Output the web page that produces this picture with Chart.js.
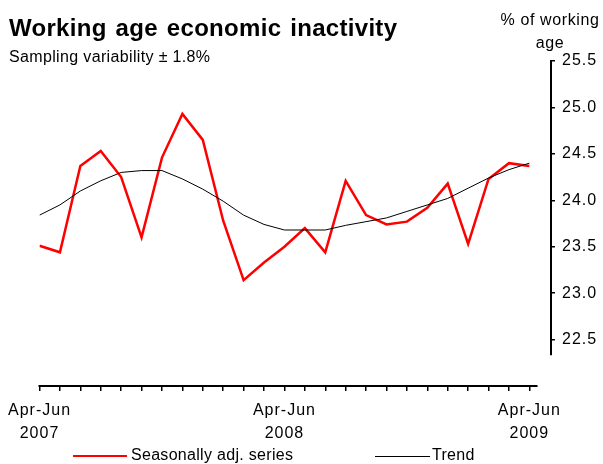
<!DOCTYPE html>
<html>
<head>
<meta charset="utf-8">
<script src="https://cdn.jsdelivr.net/npm/chart.js@4.4.1/dist/chart.umd.min.js"></script>
<style>
  html, body { margin: 0; padding: 0; background: #fff; overflow: hidden; }
  body { width: 603px; height: 464px; position: relative; font-family: "Liberation Sans", Arial, sans-serif; color: #000; }
  canvas { position: absolute; left: 0; top: 0; }
  .txt { position: absolute; white-space: nowrap; }
  #title { left: 9px; top: 16px; font-size: 24px; line-height: 24px; font-weight: bold; letter-spacing: 0.3px; word-spacing: 2px; }
  #subtitle { left: 9px; top: 49px; font-size: 16px; line-height: 16px; letter-spacing: 0.35px; }
  #ytitle { left: 490px; width: 120px; top: 8px; font-size: 16px; line-height: 23px; text-align: center; letter-spacing: 0.6px; }
  .leg { top: 447px; font-size: 16px; line-height: 16px; letter-spacing: 0.3px; }
  .swatch { position: absolute; height: 0; }
</style>
</head>
<body>
<canvas id="chart" width="603" height="464"></canvas>
<div class="txt" id="title">Working age economic inactivity</div>
<div class="txt" id="subtitle">Sampling variability ± 1.8%</div>
<div class="txt" id="ytitle">% of working<br>age</div>
<div class="swatch" style="left:73px; width:54px; top:455px; border-top:2px solid #ff0000;"></div>
<div class="txt leg" style="left:131px;">Seasonally adj. series</div>
<div class="swatch" style="left:375px; width:55px; top:456px; border-top:1px solid #000;"></div>
<div class="txt leg" style="left:432px;">Trend</div>
<script>
// rolling three-month periods
const periods = [
  'Apr-Jun 2007', 'May-Jul 2007', 'Jun-Aug 2007', 'Jul-Sep 2007', 'Aug-Oct 2007',
  'Sep-Nov 2007', 'Oct-Dec 2007', 'Nov-Jan 2008', 'Dec-Feb 2008', 'Jan-Mar 2008',
  'Feb-Apr 2008', 'Mar-May 2008', 'Apr-Jun 2008', 'May-Jul 2008', 'Jun-Aug 2008',
  'Jul-Sep 2008', 'Aug-Oct 2008', 'Sep-Nov 2008', 'Oct-Dec 2008', 'Nov-Jan 2009',
  'Dec-Feb 2009', 'Jan-Mar 2009', 'Feb-Apr 2009', 'Mar-May 2009', 'Apr-Jun 2009'
];
const labelledPeriods = [0, 12, 24];

const seasAdj = [23.51, 23.44, 24.37, 24.53, 24.25, 23.60, 24.46, 24.93, 24.65, 23.78,
                 23.14, 23.33, 23.50, 23.70, 23.44, 24.21, 23.84, 23.74, 23.77, 23.92,
                 24.18, 23.53, 24.23, 24.40, 24.37];
const trend   = [23.84, 23.95, 24.10, 24.21, 24.30, 24.32, 24.32, 24.23, 24.12, 23.99,
                 23.84, 23.74, 23.68, 23.68, 23.68, 23.73, 23.77, 23.81, 23.88, 23.95,
                 24.02, 24.13, 24.24, 24.33, 24.40];

const yTicks = [22.5, 23.0, 23.5, 24.0, 24.5, 25.0, 25.5];

const toPoints = arr => arr.map((v, i) => ({ x: i, y: v }));

// axis lines drawn by hand: Excel-style stubs that stop short of each other
const axisLines = {
  id: 'axisLines',
  beforeLayout(chart) { chart.ctx.letterSpacing = '1px'; },
  beforeDraw(chart) { chart.ctx.letterSpacing = '1px'; },
  afterDraw(chart) {
    const { ctx, scales: { x, y }, chartArea } = chart;
    ctx.save();
    ctx.strokeStyle = '#000';
    ctx.lineWidth = 2;
    ctx.beginPath();
    ctx.moveTo(x.getPixelForValue(0) - 1, chartArea.bottom);
    ctx.lineTo(x.getPixelForValue(24.4), chartArea.bottom);
    ctx.moveTo(chartArea.right, y.getPixelForValue(25.5) - 1);
    ctx.lineTo(chartArea.right, y.getPixelForValue(22.33));
    ctx.stroke();
    ctx.restore();
  }
};

new Chart(document.getElementById('chart'), {
  type: 'line',
  data: {
    datasets: [
      { label: 'Trend', data: toPoints(trend), borderColor: '#000', borderWidth: 1, order: 0 },
      { label: 'Seasonally adj. series', data: toPoints(seasAdj), borderColor: '#ff0000', borderWidth: 2.5, order: 1 }
    ]
  },
  options: {
    responsive: false,
    animation: false,
    devicePixelRatio: 1,
    layout: { padding: { left: 38, top: 61, right: 0, bottom: 0 } },
    elements: { point: { radius: 0 }, line: { tension: 0 } },
    plugins: { legend: { display: false }, tooltip: { enabled: false } },
    scales: {
      x: {
        type: 'linear',
        min: 0,
        max: 25.06,
        afterBuildTicks: s => { s.ticks = periods.map((p, i) => ({ value: i })); },
        afterFit: s => { s.height = 78; },
        border: { display: false },
        grid: { drawOnChartArea: false, drawTicks: true, tickLength: 5, color: '#000', lineWidth: 1.5 },
        ticks: {
          autoSkip: false,
          maxRotation: 0,
          padding: 8,
          color: '#000',
          font: { family: '"Liberation Sans", Arial, sans-serif', size: 16, lineHeight: 1.46 },
          callback: v => labelledPeriods.includes(v) ? periods[v].split(' ') : ''
        }
      },
      y: {
        position: 'right',
        min: 22.0,
        max: 25.5,
        afterBuildTicks: s => { s.ticks = yTicks.map(v => ({ value: v })); },
        afterFit: s => { s.width = 52; },
        border: { display: false },
        grid: { drawOnChartArea: false, drawTicks: true, tickLength: 4, color: '#000', lineWidth: 1.5 },
        ticks: {
          padding: 7,
          color: '#000',
          font: { family: '"Liberation Sans", Arial, sans-serif', size: 16 },
          callback: v => v.toFixed(1)
        }
      }
    }
  },
  plugins: [axisLines]
});
</script>
</body>
</html>
